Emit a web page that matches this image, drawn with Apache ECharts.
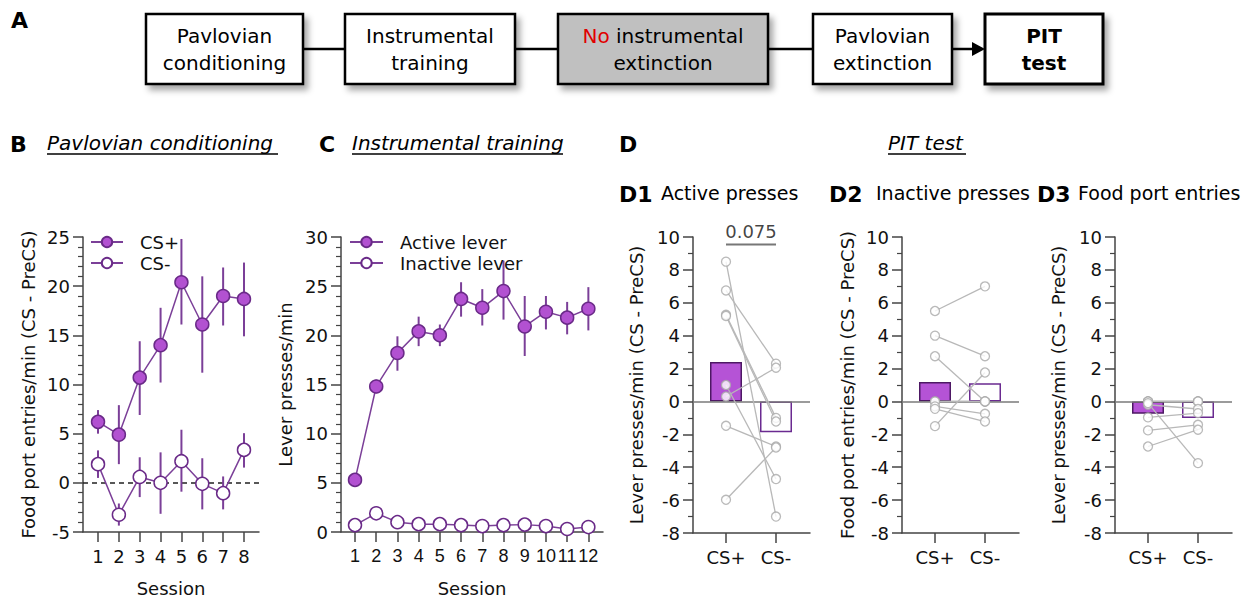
<!DOCTYPE html>
<html><head><meta charset="utf-8">
<script src="https://cdn.jsdelivr.net/npm/echarts@6/dist/echarts.min.js"></script>
<style>html,body{margin:0;padding:0;background:#fff}#c{width:1245px;height:599px}</style>
</head><body><div id="c"></div>
<script>
const FONT = 'DejaVu Sans';

// ---- Panel A flow steps ----
const flowSteps = ['Pavlovian\nconditioning', 'Instrumental\ntraining', '{r|No} instrumental\nextinction', 'Pavlovian\nextinction', 'PIT\ntest'];

// ---- Panel B: Pavlovian conditioning ----
const sessionsB = [1, 2, 3, 4, 5, 6, 7, 8];
const csPlusMean = [6.2, 4.9, 10.7, 14.0, 20.4, 16.1, 19.0, 18.7];
const csPlusLow  = [5.0, 1.9, 6.9, 10.2, 16.1, 11.2, 16.0, 14.9];
const csPlusHigh = [7.4, 7.9, 14.4, 17.8, 24.8, 21.0, 21.9, 22.4];
const csMinusMean = [1.9, -3.25, 0.6, 0.0, 2.2, -0.1, -1.05, 3.35];
const csMinusLow  = [0.5, -4.35, -1.45, -3.15, -0.9, -2.7, -2.7, 1.55];
const csMinusHigh = [3.3, -2.1, 2.6, 3.1, 5.4, 2.5, 0.65, 5.05];

// ---- Panel C: Instrumental training ----
const sessionsC = [1, 2, 3, 4, 5, 6, 7, 8, 9, 10, 11, 12];
const activeMean = [5.3, 14.8, 18.2, 20.4, 20.0, 23.7, 22.8, 24.5, 20.9, 22.4, 21.8, 22.7];
const activeLow  = [4.8, 14.1, 16.4, 18.9, 18.9, 21.9, 21.0, 21.6, 17.9, 20.6, 20.1, 20.5];
const activeHigh = [5.8, 15.5, 19.9, 21.9, 21.1, 25.4, 24.7, 27.6, 24.0, 24.0, 23.4, 24.9];
const inactiveMean = [0.7, 1.9, 1.0, 0.8, 0.8, 0.7, 0.6, 0.7, 0.75, 0.6, 0.3, 0.5];

// ---- Panel D: PIT test ----
const dCategories = ['CS+', 'CS-'];
const d1Bars = [2.4, -1.87];
const d1Plus  = [8.5, 6.75, 5.27, 5.2, 1.0, 0.3, -1.48, -5.98];
const d1Minus = [-7.0, 2.3, -1.0, -1.22, -4.72, 2.05, -2.74, -2.8];
const d1P = '0.075';
const d2Bars = [1.18, 1.11];
const d2Plus  = [5.5, 4.0, 2.75, 0, 0, -0.3, -0.45, -1.5];
const d2Minus = [7.0, 2.75, 0, 0, 0, -0.75, -1.22, 1.76];
const d3Bars = [-0.75, -1.0];
const d3Plus  = [0, 0, 0, -0.2, -0.1, -0.97, -1.76, -2.74];
const d3Minus = [0, 0, 0, -0.46, -3.75, -0.71, -1.42, -1.72];

const PURPLE_FILL = '#b251d1';
const PURPLE_EDGE = '#6a2a88';
const PURPLE_LINE = '#7b3f98';
const AXIS = '#444';
const TXT = '#111';

function yAx(grid, min, max, interval, minorSplit, name, gap) {
  return {
    type: 'value', gridIndex: grid, min: min, max: max, interval: interval,
    name: name, nameLocation: 'middle', nameGap: gap, nameMoveOverlap: false,
    nameTextStyle: { fontFamily: FONT, fontSize: 18, color: TXT },
    axisLine: { show: true, onZero: false, lineStyle: { color: AXIS, width: 1.5 } },
    axisTick: { show: true, length: 10, lineStyle: { color: AXIS, width: 1.5 } },
    minorTick: { show: true, splitNumber: minorSplit, length: 5, lineStyle: { color: AXIS, width: 1.2 } },
    axisLabel: { fontFamily: FONT, fontSize: 18, color: TXT, margin: 13, hideOverlap: false },
    splitLine: { show: false }, minorSplitLine: { show: false }
  };
}
function xAx(grid, min, max, ticks, labels, name, labelFont) {
  return {
    type: 'value', gridIndex: grid, min: min, max: max,
    name: name, nameLocation: 'middle', nameGap: 47, nameMoveOverlap: false,
    nameTextStyle: { fontFamily: FONT, fontSize: 18, color: TXT },
    axisLine: { show: true, onZero: false, lineStyle: { color: AXIS, width: 1.5 } },
    axisTick: { show: true, customValues: ticks, length: 10, lineStyle: { color: AXIS, width: 1.5 } },
    axisLabel: { customValues: ticks, fontFamily: labelFont || FONT, fontSize: 18, color: TXT, margin: 15,
      hideOverlap: false, showMinLabel: true, showMaxLabel: true,
      formatter: function (v) { const i = ticks.indexOf(v); return i >= 0 ? String(labels[i]) : ''; } },
    splitLine: { show: false }
  };
}
function errRender(color) {
  return function (params, api) {
    const x = api.value(0);
    const a = api.coord([x, api.value(1)]);
    const b = api.coord([x, api.value(2)]);
    return { type: 'line', shape: { x1: a[0], y1: a[1], x2: b[0], y2: b[1] }, style: { stroke: color, lineWidth: 2 } };
  };
}
function pairRender(params, api) {
  const a = api.coord([api.value(0), api.value(1)]);
  const b = api.coord([api.value(2), api.value(3)]);
  return { type: 'line', shape: { x1: a[0], y1: a[1], x2: b[0], y2: b[1] }, style: { stroke: '#b8b8b8', lineWidth: 1.3 } };
}
function lineSeries(name, gi, xs, ys, filled) {
  return {
    name: name, type: 'line', xAxisIndex: gi, yAxisIndex: gi, silent: true, z: 5,
    data: xs.map((s, i) => [s, ys[i]]),
    symbol: 'circle', symbolSize: 13, showSymbol: true, showAllSymbol: true,
    itemStyle: { color: filled ? PURPLE_FILL : '#fff', borderColor: PURPLE_EDGE, borderWidth: 1.5 },
    lineStyle: { color: PURPLE_LINE, width: 1.5 }
  };
}
function errSeries(gi, xs, lo, hi) {
  return { type: 'custom', xAxisIndex: gi, yAxisIndex: gi, silent: true, z: 3,
    renderItem: errRender(PURPLE_LINE), data: xs.map((s, i) => [s, lo[i], hi[i]]) };
}
function dSeries(gi, bars, plus, minus) {
  return [
    { type: 'bar', xAxisIndex: gi, yAxisIndex: gi, silent: true, barWidth: 32, z: 2,
      data: [
        { value: [1, bars[0]], itemStyle: { color: '#b553d6', borderColor: '#4d1864', borderWidth: 1.5 } },
        { value: [2, bars[1]], itemStyle: { color: '#fff', borderColor: '#6a2a90', borderWidth: 1.5 } }
      ],
      markLine: { silent: true, symbol: 'none', label: { show: false }, z: 3,
        lineStyle: { color: '#7a7a7a', width: 1.6, type: 'solid' }, data: [{ yAxis: 0 }] } },
    { type: 'custom', xAxisIndex: gi, yAxisIndex: gi, silent: true, z: 4, renderItem: pairRender,
      encode: { x: [0, 2], y: [1, 3] },
      data: plus.map((p, i) => [1, p, 2, minus[i]]) },
    { type: 'scatter', xAxisIndex: gi, yAxisIndex: gi, silent: true, z: 5, symbolSize: 9,
      itemStyle: { color: '#fff', borderColor: '#a8a8a8', borderWidth: 1.3 },
      data: plus.map(v => [1, v]) },
    { type: 'scatter', xAxisIndex: gi, yAxisIndex: gi, silent: true, z: 5, symbolSize: 9,
      itemStyle: { color: '#fff', borderColor: '#a8a8a8', borderWidth: 1.3 },
      data: minus.map(v => [2, v]) }
  ];
}

// ---- graphics (flowchart + panel titles) ----
const boxGeom = [[146, 157], [345, 170], [558, 210], [813, 139], [985, 118]];
const BOX_Y = 14, BOX_H = 70;
const graphics = [];
boxGeom.forEach((g, i) => {
  graphics.push({ type: 'rect', shape: { x: g[0], y: BOX_Y, width: g[1], height: BOX_H },
    style: { fill: i === 2 ? '#c0c0c0' : '#fff', stroke: '#000', lineWidth: i === 4 ? 3 : 2.5,
      shadowBlur: 6, shadowOffsetX: 4, shadowOffsetY: 5, shadowColor: 'rgba(0,0,0,0.35)' }, z: 10 });
  graphics.push({ type: 'text', z: 11, style: {
    text: flowSteps[i], x: g[0] + g[1] / 2, y: BOX_Y + BOX_H / 2,
    align: 'center', verticalAlign: 'middle', textAlign: 'center', textVerticalAlign: 'middle',
    fontFamily: FONT, fontSize: 20, lineHeight: 27, fontWeight: i === 4 ? 'bold' : 'normal', fill: '#000',
    rich: { r: { fill: '#e00000', fontFamily: FONT, fontSize: 20, lineHeight: 27 } } } });
  if (i < 4) {
    const x1 = g[0] + g[1], x2 = boxGeom[i + 1][0];
    graphics.push({ type: 'line', z: 9, shape: { x1: x1, y1: 49, x2: i === 3 ? x2 - 10 : x2, y2: 49 },
      style: { stroke: '#000', lineWidth: 2.5 } });
    if (i === 3) {
      graphics.push({ type: 'polygon', z: 11, shape: { points: [[x2 - 13, 42], [x2, 49], [x2 - 13, 56]] },
        style: { fill: '#000' } });
    }
  }
});
function addText(t, x, y, size, opts) {
  opts = opts || {};
  graphics.push({ type: 'text', z: 11, style: {
    text: t, x: x, y: y, align: 'left', verticalAlign: 'middle', textAlign: 'left', textVerticalAlign: 'middle',
    fontFamily: FONT, fontSize: size, fontWeight: opts.bold ? 'bold' : 'normal',
    fontStyle: opts.italic ? 'italic' : 'normal', fill: '#000' } });
}
function addUnder(x1, x2, y) {
  graphics.push({ type: 'line', z: 11, shape: { x1: x1, y1: y, x2: x2, y2: y }, style: { stroke: '#000', lineWidth: 1.3 } });
}
addText('A', 11, 20, 22, { bold: true });
addText('B', 10, 144, 22, { bold: true });
addText('Pavlovian conditioning', 47, 143, 20, { italic: true });
addUnder(47, 278, 154);
addText('C', 319, 144, 22, { bold: true });
addText('Instrumental training', 352, 143, 20, { italic: true });
addUnder(352, 563, 154);
addText('D', 619, 144, 22, { bold: true });
addText('PIT test', 888, 143, 20, { italic: true });
addUnder(888, 966, 154);
addText('D1', 619, 194, 22, { bold: true });
addText('Active presses', 661, 193, 19);
addText('D2', 829, 194, 22, { bold: true });
addText('Inactive presses', 876, 193, 19);
addText('D3', 1037, 194, 22, { bold: true });
addText('Food port entries', 1078, 193, 19);

const legendText = { fontFamily: FONT, fontSize: 18, color: TXT, padding: [0, 0, 0, 12] };

const option = {
  animation: false,
  backgroundColor: '#fff',
  graphic: graphics,
  legend: [
    { data: ['CS+', 'CS-'], left: 85, top: 228, orient: 'vertical', itemWidth: 32, itemHeight: 13, itemGap: 3,
      textStyle: legendText, selectedMode: false },
    { data: ['Active lever', 'Inactive lever'], left: 344, top: 228, orient: 'vertical', itemWidth: 33, itemHeight: 13, itemGap: 3,
      textStyle: legendText, selectedMode: false }
  ],
  grid: [
    { left: 83, top: 237, width: 176, height: 295 },
    { left: 341, top: 237, width: 262, height: 295 },
    { left: 693, top: 237, width: 117, height: 296 },
    { left: 902, top: 237, width: 117, height: 296 },
    { left: 1115, top: 237, width: 117, height: 296 }
  ],
  xAxis: [
    xAx(0, 0.28, 8.72, sessionsB, sessionsB, 'Session'),
    xAx(1, 0.34, 12.69, sessionsC, sessionsC, 'Session', 'Liberation Sans'),
    xAx(2, 0.34, 2.68, [1, 2], dCategories, ''),
    xAx(3, 0.34, 2.68, [1, 2], dCategories, ''),
    xAx(4, 0.34, 2.68, [1, 2], dCategories, '')
  ],
  yAxis: [
    yAx(0, -5, 25, 5, 5, 'Food port entries/min (CS - PreCS)', 46),
    yAx(1, 0, 30, 5, 5, 'Lever presses/min', 47),
    yAx(2, -8, 10, 2, 2, 'Lever presses/min (CS - PreCS)', 48),
    yAx(3, -8, 10, 2, 2, 'Food port entries/min (CS - PreCS)', 46),
    yAx(4, -8, 10, 2, 2, 'Lever presses/min (CS - PreCS)', 48)
  ],
  series: [
    errSeries(0, sessionsB, csPlusLow, csPlusHigh),
    errSeries(0, sessionsB, csMinusLow, csMinusHigh),
    lineSeries('CS+', 0, sessionsB, csPlusMean, true),
    Object.assign(lineSeries('CS-', 0, sessionsB, csMinusMean, false), {
      markLine: { silent: true, symbol: 'none', label: { show: false }, z: 2,
        lineStyle: { color: '#222', width: 1.5, type: [5, 4] }, data: [{ yAxis: 0 }] } }),
    errSeries(1, sessionsC, activeLow, activeHigh),
    lineSeries('Active lever', 1, sessionsC, activeMean, true),
    lineSeries('Inactive lever', 1, sessionsC, inactiveMean, false),
    ...dSeries(2, d1Bars, d1Plus, d1Minus),
    ...dSeries(3, d2Bars, d2Plus, d2Minus),
    ...dSeries(4, d3Bars, d3Plus, d3Minus),
    { type: 'line', xAxisIndex: 2, yAxisIndex: 2, silent: true, symbol: 'none',
      lineStyle: { color: '#777', width: 2 }, data: [[1, 9.55], [2, 9.55]] },
    { type: 'scatter', xAxisIndex: 2, yAxisIndex: 2, silent: true, symbolSize: 0,
      label: { show: true, position: 'top', distance: 4, formatter: d1P, fontFamily: FONT, fontSize: 18, color: TXT },
      data: [[1.5, 9.55]] }
  ]
};
const chart = echarts.init(document.getElementById('c'), null, { renderer: 'svg' });
chart.setOption(option);
</script>
</body></html>
